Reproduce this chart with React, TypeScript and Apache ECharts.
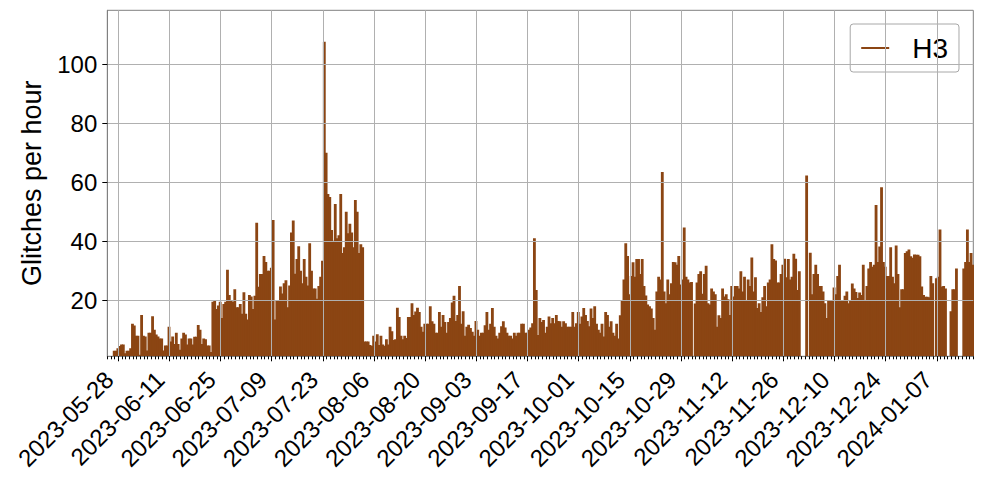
import React, { useEffect, useRef } from 'react';
import * as echarts from 'echarts';

// ---------------- data ----------------
const seriesName = 'H3';
const startDate = '2023-05-25';
const endDate = '2024-01-17';
const binHours = 12;

// glitches per hour, one value per 12-hour bin starting at startDate (null = no data)
const glitchesPerHour: (number | null)[] = [
  null, null, null, 2.9, 2.9, 3.7, 4.5, 5, 5, 2,
  2.9, 2.9, 3.7, 12, 11.4, 8, 8, 1.5, 15, 8,
  7.7, 3, 9, 9, 14.6, 10, 8.4, 7.7, 7, 7,
  3, 4.7, 4.7, 11, 6, 7.7, 5.2, 9, 5.2, 3.2,
  7, 9, 8.4, 5, 7, 7, 5, 7.6, 7.6, 11.6,
  10, 5.2, 7, 6.8, 4.7, 4.7, 2.5, 19.5, 19.8, 17,
  18.2, 19.5, 14, 18.7, 19.5, 30.3, 21.8, 20, 19.5, 23.7,
  17.6, 17.6, 18.7, 15.4, 22.7, 15.4, 13.5, 21.8, 21.3, 17,
  21.5, 46.3, 24.6, 28.9, 28.9, 35, 33, 30, 30, 31,
  47.2, 13.5, 20, 20, 24.7, 22.3, 25.8, 26.8, 17.6, 25,
  43, 47, 29, 34, 38.3, 30, 25.8, 34, 28, 25,
  39.3, 30, 24, 24, 20.5, 24.8, 28, 33.4, 107.6, 70,
  56, 55, 43.8, 40.2, 52.6, 41, 42, 56, 36, 38,
  50, 42.7, 45.9, 43, 38, 54, 50, 36, 39, 38,
  6, 6, 6, 4.8, 4.6, 8, 6, 8.5, 4.8, 8,
  5, 4.6, 6.8, 5, 11, 9.5, 6.5, 6.8, 17.5, 14.3,
  8, 6.8, 8, 7.2, 14.3, 14.3, 19, 15, 16.2, 17.5,
  16, 11, 9.3, 12, 12, 12, 18, 12.9, 12, 9,
  9, 16, 11, 15, 12.6, 9, 12.6, 14, 19.2, 21.5,
  13, 15, 24.8, 12, 16.3, 8, 11, 11.7, 10.6, 9.3,
  8, 13, 10, 8, 9, 9, 11.5, 16, 10, 12,
  17.4, 11, 8, 7, 9, 11.2, 12.9, 10.8, 9, 8,
  8, 7, 9, 8, 9, 9, 12, 12, 9, 9,
  10, 10.8, 12.2, 41, 23.5, 8.2, 14, 12.6, 13.3, 9,
  11, 14.5, 12.2, 14, 12.2, 15, 13, 12.9, 11, 12.9,
  12.2, 11, 11, 11, 16, 11, 12.2, 16, 12, 14.5,
  17.4, 15, 13, 11.2, 17.2, 14, 18, 12, 10, 9,
  12, 7.7, 16, 15, 11, 12.9, 9, 8, 12, 7,
  14.9, 20, 27, 39.3, 35, 22, 28.2, 32.9, 28, 34,
  34, 28.9, 34, 24.8, 21.6, 18.6, 18, 17.2, 14, 10,
  23, 28, 27, 63.5, 23, 19, 27, 22, 25.8, 33,
  32.9, 32, 35, 25.3, 27, 44.7, 28, 27, 26, 26.2,
  null, 18.9, 26, 28.9, 29.8, 22.2, 28.9, 31.7, 19, 18.6,
  24, 23, 22, 11, 14.9, 14, 24, 21.3, 22, 20.3,
  15, 24.8, 21.3, 24.8, 24.8, 24, 29.8, 23, 28, 20,
  27, 24.8, 34.5, 23, 27.8, 17.4, 19, 16, 21, 24.8,
  18, 26, 27, 39, 34, 33.5, 26, 26, 28.9, 32,
  34.1, 27.8, 34, 27, 28, 35.8, 34.1, 23.5, 29.8, null,
  null, null, 62.3, null, 36.1, 22, 28.9, 32, 28.9, 24.8,
  24.8, 23, 19, 14, 20, 20, 20, 24.3, 22, 28.2,
  32, 20, 20, 21.5, 23, 19, 20, 25.7, 24, 22.8,
  20.8, 22.6, 21.8, 32, 19.9, 24.8, 30.8, 33, 31.4, 32,
  52.3, 33, 38.2, 58.3, 33, 31.4, 28.2, 28.2, 38, 28,
  25.8, 38.6, 28.9, 17.6, 23.7, 23.7, 36, 36.6, 37.2, 34.9,
  34.4, 35.5, 35.4, 35.4, 34.9, 24.7, 21.8, 21.2, 21.2, 21,
  28.2, 25.8, null, 27.5, 28, 44, 24.7, 24.8, 24, null,
  null, 16.3, 23.7, 23.7, 30.8, null, null, null, 30.8, 33,
  44, 33, 36, 32,
];

const xTickLabels = [
  '2023-05-28', '2023-06-11', '2023-06-25', '2023-07-09', '2023-07-23',
  '2023-08-06', '2023-08-20', '2023-09-03', '2023-09-17', '2023-10-01',
  '2023-10-15', '2023-10-29', '2023-11-12', '2023-11-26', '2023-12-10',
  '2023-12-24', '2024-01-07',
];
const yTickValues = [20, 40, 60, 80, 100];
const yMin = 1;
const yMax = 118.3;
const yAxisTitle = 'Glitches per hour';

// ---------------- helpers ----------------
const DAY = 86400000;
function utc(s: string): number {
  const [y, m, d] = s.split('-').map(Number);
  return Date.UTC(y, m - 1, d);
}
function fmt(t: number): string {
  const d = new Date(t);
  const mm = String(d.getUTCMonth() + 1).padStart(2, '0');
  const dd = String(d.getUTCDate()).padStart(2, '0');
  return `${d.getUTCFullYear()}-${mm}-${dd}`;
}

const FONT = '"Liberation Sans", Arial, Helvetica, sans-serif';
const BAR_COLOR = '#8B4513';

export default function App() {
  const ref = useRef<HTMLDivElement>(null);

  useEffect(() => {
    if (!ref.current) return;
    const chart = echarts.init(ref.current, undefined, { renderer: 'svg' });

    const t0 = utc(startDate);
    const t1 = utc(endDate);
    const binMs = binHours * 3600000;

    const barData: number[][] = [];
    glitchesPerHour.forEach((v, i) => {
      if (v == null) return;
      barData.push([t0 + i * binMs, t0 + (i + 1) * binMs, v]);
    });

    const majorTicks = xTickLabels.map(utc);
    const minorTicks: number[] = [];
    for (let t = t0; t <= t1; t += DAY) minorTicks.push(t);

    const option: any = {
      animation: false,
      backgroundColor: '#ffffff',
      textStyle: { fontFamily: FONT },
      grid: {
        left: 107.3,
        right: 8.7,
        top: 10.3,
        bottom: 127.7,
        show: true,
        borderColor: '#808080',
        borderWidth: 1,
        backgroundColor: 'transparent',
      },
      legend: {
        show: true,
        data: [{ name: seriesName, icon: 'rect' }],
        right: 23,
        top: 24,
        orient: 'vertical',
        selectedMode: false,
        padding: [7, 11, 7, 11],
        itemWidth: 28,
        itemHeight: 2,
        borderColor: '#a8a8a8',
        borderWidth: 1,
        borderRadius: 3,
        backgroundColor: 'rgba(255,255,255,0.8)',
        textStyle: {
          fontFamily: FONT,
          fontSize: 28,
          color: '#000',
          lineHeight: 34,
          padding: [0, 0, 0, 18],
        },
      },
      xAxis: [
        {
          type: 'value',
          min: t0,
          max: t1,
          position: 'bottom',
          z: 10,
          axisLine: { show: true, lineStyle: { color: '#808080', width: 1 } },
          axisTick: {
            show: true,
            customValues: majorTicks,
            length: 5,
            lineStyle: { color: '#000', width: 1 },
          },
          axisLabel: {
            show: true,
            customValues: majorTicks,
            formatter: (v: number) => fmt(v),
            rotate: 45,
            fontSize: 24,
            fontFamily: FONT,
            color: '#000',
            margin: 10,
            padding: [0, 13, 0, 0],
            hideOverlap: false,
          },
          splitLine: { show: true, lineStyle: { color: '#b0b0b0', width: 1 } },
        },
        {
          type: 'value',
          min: t0,
          max: t1,
          position: 'bottom',
          z: 10,
          axisLine: { show: false },
          axisTick: {
            show: true,
            customValues: minorTicks,
            length: 3,
            lineStyle: { color: '#000', width: 1 },
          },
          axisLabel: { show: false },
          splitLine: { show: false },
        },
      ],
      yAxis: {
        type: 'value',
        min: yMin,
        max: yMax,
        z: 10,
        name: yAxisTitle,
        nameLocation: 'middle',
        nameGap: 62,
        nameTextStyle: { fontSize: 27, color: '#000', fontFamily: FONT },
        axisLine: { show: true, lineStyle: { color: '#808080', width: 1 } },
        axisTick: {
          show: true,
          customValues: yTickValues,
          length: 5,
          lineStyle: { color: '#000', width: 1 },
        },
        axisLabel: {
          customValues: yTickValues,
          fontSize: 24,
          fontFamily: FONT,
          color: '#000',
          margin: 10,
        },
        splitLine: { show: true, lineStyle: { color: '#b0b0b0', width: 1 } },
      },
      series: [
        {
          name: seriesName,
          type: 'custom',
          xAxisIndex: 0,
          yAxisIndex: 0,
          clip: true,
          color: BAR_COLOR,
          itemStyle: { color: BAR_COLOR },
          encode: { x: [0, 1], y: 2 },
          data: barData,
          renderItem: (params: any, api: any) => {
            const s = api.value(0);
            const e = api.value(1);
            const v = api.value(2);
            const p1 = api.coord([s, v]);
            const p2 = api.coord([e, yMin]);
            return {
              type: 'rect',
              shape: {
                x: p1[0],
                y: p1[1],
                width: p2[0] - p1[0] + 1,
                height: p2[1] - p1[1],
              },
              style: { fill: BAR_COLOR, stroke: null, lineWidth: 0 },
            };
          },
        },
      ],
    };

    chart.setOption(option);
    return () => chart.dispose();
  }, []);

  return (
    <div
      ref={ref}
      style={{ position: 'fixed', left: 0, top: 0, width: 982, height: 484, background: '#fff' }}
    />
  );
}
